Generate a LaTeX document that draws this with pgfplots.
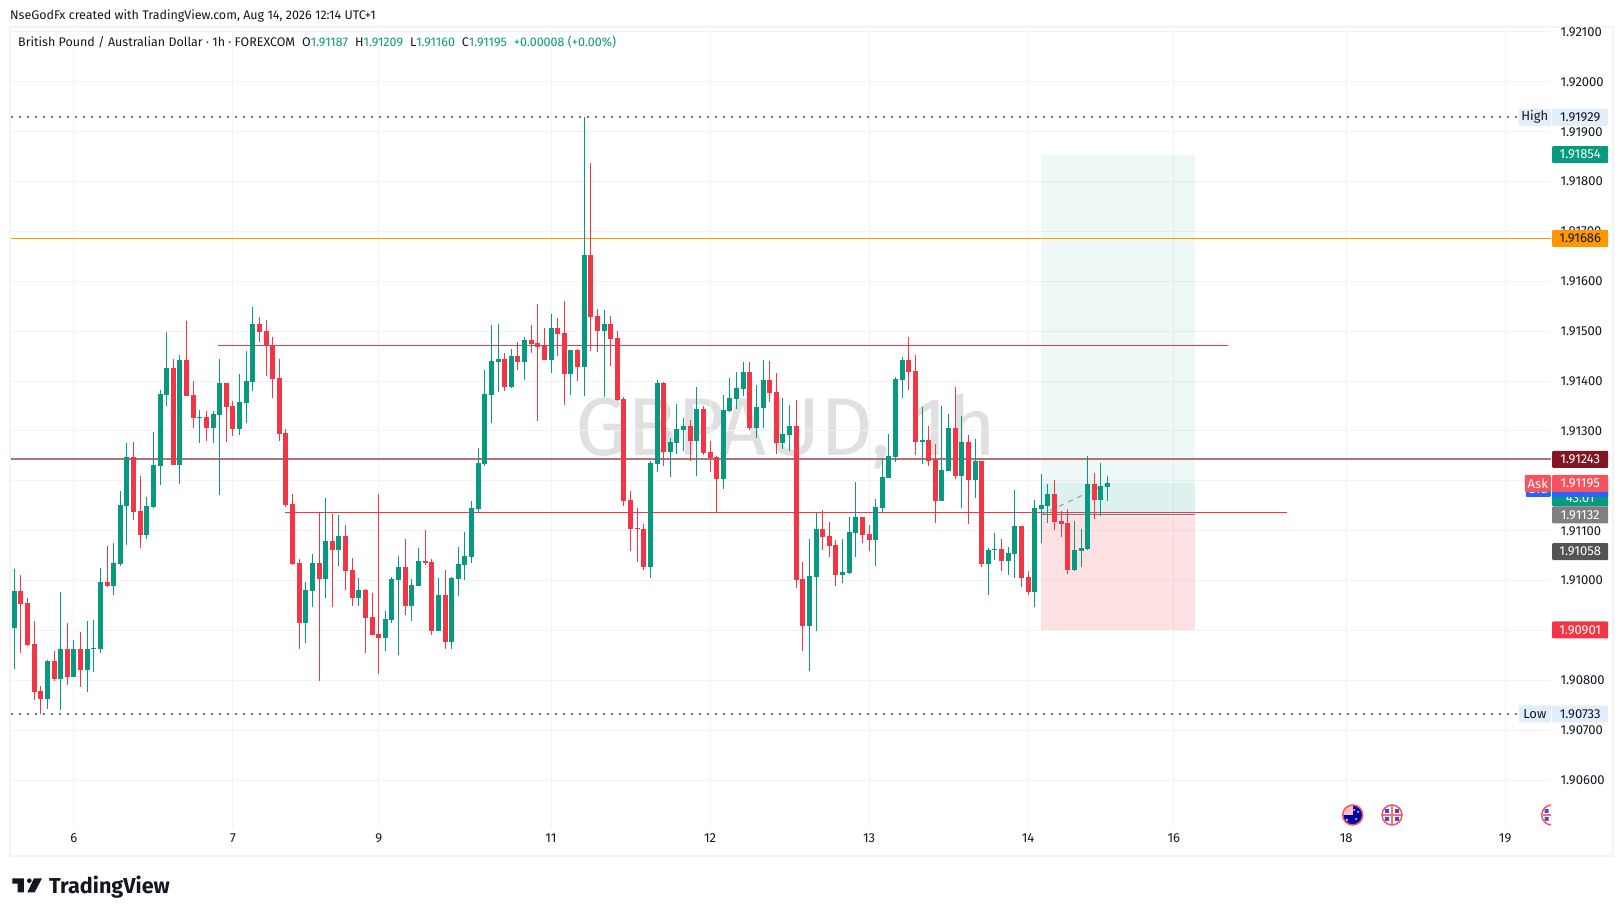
\documentclass[border=0pt]{standalone}
\usepackage{fontspec}
\setmainfont{Fira Sans}
\usepackage{pgfplots}
\usepackage{pgfplotstable}
\pgfplotsset{compat=1.18}
\definecolor{up}{HTML}{089981}
\definecolor{down}{HTML}{F23645}
\definecolor{gridc}{HTML}{F3F3F3}
\definecolor{framec}{HTML}{F2F3F5}
\definecolor{txt}{HTML}{131722}
\definecolor{hl}{HTML}{E3EEFC}
\definecolor{keyline}{HTML}{B27377}
\definecolor{keybox}{HTML}{7F1622}
\definecolor{askc}{HTML}{F7525F}
\definecolor{bidc}{HTML}{2962FF}
\definecolor{orangec}{HTML}{FF9800}
\pgfplotstableread{
i o h l c
0 1.90905 1.91023 1.90823 1.90979
5 1.90763 1.90841 1.90743 1.90839
7 1.90803 1.90977 1.90741 1.90863
9 1.90807 1.90881 1.90807 1.90863
11 1.90821 1.90919 1.90777 1.90863
12 1.90863 1.90921 1.90817 1.90865
13 1.90863 1.91025 1.90855 1.90997
15 1.90989 1.91075 1.90971 1.91035
16 1.91033 1.91179 1.91029 1.91151
17 1.91149 1.91275 1.91071 1.91247
20 1.91091 1.91167 1.91083 1.91149
21 1.91147 1.91297 1.91145 1.91231
22 1.91229 1.91383 1.91191 1.91375
23 1.91373 1.91499 1.91351 1.91427
25 1.91231 1.91453 1.91193 1.91443
28 1.91327 1.91343 1.91275 1.91329
30 1.91305 1.91341 1.91275 1.91335
31 1.91333 1.91445 1.91171 1.91397
34 1.91303 1.91415 1.91291 1.91359
35 1.91357 1.91461 1.91317 1.91401
36 1.91399 1.91549 1.91381 1.91515
44 1.90915 1.90997 1.90875 1.90981
45 1.90979 1.91053 1.90947 1.91035
47 1.91003 1.91165 1.90965 1.91079
49 1.91061 1.91131 1.91029 1.91089
52 1.90965 1.91005 1.90949 1.90981
56 1.90885 1.90939 1.90859 1.90923
57 1.90921 1.91007 1.90915 1.91003
58 1.91001 1.91049 1.90851 1.91027
60 1.90949 1.91003 1.90919 1.90991
61 1.90989 1.91065 1.90989 1.91039
64 1.90899 1.91005 1.90899 1.90971
66 1.90877 1.91007 1.90863 1.91005
67 1.91003 1.91067 1.90969 1.91033
68 1.91031 1.91097 1.91001 1.91049
69 1.91047 1.91159 1.91035 1.91145
70 1.91143 1.91265 1.91135 1.91235
71 1.91233 1.91423 1.91229 1.91375
72 1.91373 1.91513 1.91315 1.91441
73 1.91439 1.91515 1.91379 1.91445
75 1.91389 1.91465 1.91387 1.91451
77 1.91439 1.91489 1.91403 1.91483
81 1.91443 1.91535 1.91417 1.91507
84 1.91415 1.91463 1.91373 1.91463
86 1.91429 1.91929 1.91371 1.91653
89 1.91501 1.91543 1.91369 1.91515
96 1.91027 1.91239 1.91005 1.91235
97 1.91233 1.91403 1.91217 1.91397
99 1.91257 1.91285 1.91207 1.91277
100 1.91275 1.91355 1.91253 1.91303
101 1.91301 1.91327 1.91259 1.91309
103 1.91279 1.91389 1.91209 1.91345
107 1.91203 1.91373 1.91183 1.91343
108 1.91341 1.91407 1.91339 1.91367
109 1.91365 1.91419 1.91345 1.91387
110 1.91385 1.91439 1.91371 1.91419
112 1.91305 1.91393 1.91285 1.91349
113 1.91347 1.91443 1.91305 1.91403
116 1.91275 1.91367 1.91263 1.91293
117 1.91291 1.91353 1.91259 1.91309
120 1.90909 1.91083 1.90819 1.91009
121 1.91007 1.91136 1.90899 1.91103
125 1.91011 1.91083 1.90995 1.91017
126 1.91015 1.91127 1.91013 1.91097
127 1.91095 1.91197 1.91047 1.91127
130 1.91081 1.91163 1.91029 1.91147
131 1.91145 1.91245 1.91137 1.91207
132 1.91205 1.91293 1.91205 1.91249
133 1.91247 1.91409 1.91237 1.91405
134 1.91403 1.91449 1.91367 1.91443
137 1.91277 1.91349 1.91233 1.91281
140 1.91159 1.91351 1.91159 1.91221
141 1.91219 1.91335 1.91219 1.91305
143 1.91209 1.91331 1.91145 1.91277
145 1.91201 1.91283 1.91165 1.91239
147 1.91033 1.91065 1.90971 1.91061
148 1.91061 1.91095 1.91041 1.91063
150 1.91039 1.91067 1.91011 1.91055
151 1.91053 1.91181 1.91005 1.91109
154 1.90977 1.91161 1.90947 1.91145
155 1.91143 1.91213 1.91075 1.91151
156 1.91149 1.91193 1.91115 1.91173
160 1.91021 1.91119 1.91019 1.91061
161 1.91059 1.91103 1.91027 1.91065
162 1.91063 1.91249 1.91061 1.91193
164 1.91161 1.91235 1.91129 1.91189
165 1.91187 1.91209 1.91160 1.91195
}\upbars
\pgfplotstableread{
i o h l c
1 1.90979 1.91011 1.90855 1.90953
2 1.90955 1.90965 1.90869 1.90871
3 1.90873 1.90919 1.90761 1.90777
4 1.90779 1.90789 1.90733 1.90763
6 1.90839 1.90859 1.90799 1.90803
8 1.90863 1.90915 1.90791 1.90807
10 1.90863 1.90897 1.90787 1.90821
14 1.90997 1.91069 1.90987 1.90989
18 1.91247 1.91277 1.91121 1.91137
19 1.91139 1.91209 1.91065 1.91091
24 1.91427 1.91445 1.91231 1.91231
26 1.91443 1.91521 1.91371 1.91371
27 1.91373 1.91401 1.91305 1.91327
29 1.91329 1.91341 1.91279 1.91305
32 1.91397 1.91397 1.91277 1.91349
33 1.91351 1.91361 1.91289 1.91303
37 1.91515 1.91529 1.91479 1.91499
38 1.91501 1.91523 1.91411 1.91472
39 1.91472 1.91489 1.91367 1.91405
40 1.91407 1.91445 1.91279 1.91293
41 1.91295 1.91305 1.91147 1.91151
42 1.91153 1.91173 1.91031 1.91033
43 1.91035 1.91043 1.90863 1.90915
46 1.91035 1.91136 1.90799 1.91003
48 1.91079 1.91133 1.90947 1.91061
50 1.91089 1.91111 1.90981 1.91019
51 1.91021 1.91045 1.90949 1.90965
53 1.90981 1.90983 1.90855 1.90925
54 1.90927 1.90975 1.90891 1.90891
55 1.90893 1.91173 1.90813 1.90885
59 1.91027 1.91083 1.90931 1.90949
62 1.91039 1.91101 1.91031 1.91035
63 1.91037 1.91043 1.90891 1.90899
65 1.90971 1.91021 1.90863 1.90877
74 1.91445 1.91457 1.91381 1.91389
76 1.91451 1.91479 1.91423 1.91439
78 1.91483 1.91513 1.91457 1.91475
79 1.91477 1.91555 1.91321 1.91469
80 1.91473 1.91507 1.91443 1.91443
82 1.91507 1.91527 1.91451 1.91495
83 1.91497 1.91561 1.91353 1.91415
85 1.91463 1.91465 1.91401 1.91429
87 1.91653 1.91837 1.91461 1.91529
88 1.91531 1.91545 1.91459 1.91501
90 1.91515 1.91531 1.91431 1.91485
91 1.91487 1.91501 1.91361 1.91363
92 1.91365 1.91369 1.91149 1.91159
93 1.91161 1.91179 1.91059 1.91103
94 1.91105 1.91145 1.91037 1.91103
95 1.91103 1.91113 1.91021 1.91027
98 1.91397 1.91399 1.91229 1.91257
102 1.91309 1.91323 1.91239 1.91279
104 1.91345 1.91351 1.91251 1.91255
105 1.91257 1.91279 1.91217 1.91245
106 1.91247 1.91249 1.91136 1.91203
111 1.91419 1.91439 1.91301 1.91305
114 1.91403 1.91441 1.91359 1.91377
115 1.91379 1.91417 1.91253 1.91275
118 1.91309 1.91363 1.90985 1.91001
119 1.91003 1.91037 1.90859 1.90909
122 1.91103 1.91141 1.91061 1.91087
123 1.91089 1.91117 1.91047 1.91069
124 1.91071 1.91081 1.90989 1.91011
128 1.91127 1.91127 1.91075 1.91091
129 1.91093 1.91111 1.91059 1.91081
135 1.91443 1.91489 1.91383 1.91419
136 1.91421 1.91453 1.91251 1.91277
138 1.91281 1.91311 1.91229 1.91239
139 1.91241 1.91273 1.91115 1.91159
142 1.91305 1.91389 1.91203 1.91209
144 1.91277 1.91291 1.91113 1.91201
146 1.91239 1.91239 1.91027 1.91033
149 1.91063 1.91083 1.91019 1.91039
152 1.91109 1.91109 1.90987 1.91005
153 1.91007 1.91019 1.90971 1.90977
157 1.91173 1.91201 1.91101 1.91117
158 1.91119 1.91139 1.91087 1.91113
159 1.91115 1.91143 1.91013 1.91021
163 1.91193 1.91215 1.91123 1.91161
}\downbars
\newcommand{\pricebox}[4]{% price, fill, text colour, text
  \node[anchor=west,xshift=1pt,minimum width=56pt,minimum height=17pt,inner sep=0pt,rounded corners=1pt,
        fill=#2,text=#3,font=\fontsize{13}{15}\selectfont] at (axis cs:231.92,#1) {#4};}
\newcommand{\sidebox}[5]{% price, width, fill, text colour, text
  \node[anchor=east,minimum width=#2,minimum height=17pt,inner sep=0pt,rounded corners=1pt,
        fill=#3,text=#4,font=\fontsize{13}{15}\selectfont] at (axis cs:231.92,#1) {#5};}
\begin{document}
\begin{tikzpicture}[x=1pt,y=1pt]
\path[use as bounding box] (0,0) rectangle (1623,916);
\draw[framec,line width=2pt] (10,889) rectangle (1613,60);
% header text
\node[anchor=base west,inner sep=0pt,text=txt,font=\fontsize{12.5}{15}\selectfont] at (10,896) {NseGodFx created with TradingView.com, Aug 14, 2026 12:14 UTC+1};
% watermark
\node[anchor=center,inner sep=0pt,text=black!12,font=\fontsize{82}{90}\selectfont] at (786,484) {GBPAUD, 1h};
\begin{axis}[
  at={(11pt,88pt)},anchor=south west,
  scale only axis,width=1540pt,height=801pt,
  xmin=-0.5,xmax=231.92,ymin=1.90504,ymax=1.92110,
  clip=false,
  axis line style={draw=none},
  major tick length=0pt,
  xtick={9,33,55,81,105,129,153,175,201,225},
  xticklabels={6,7,9,11,12,13,14,16,18,19},
  ytick={1.906,1.907,1.908,1.909,1.910,1.911,1.912,1.913,1.914,1.915,1.916,1.917,1.918,1.919,1.920,1.921},
  yticklabel pos=right,
  scaled y ticks=false,
  grid=major,
  grid style={gridc,line width=1pt},
  ticklabel style={text=txt,font=\fontsize{13}{15}\selectfont},
  yticklabel style={anchor=west,xshift=6pt,/pgf/number format/.cd,fixed,fixed zerofill,precision=5,1000 sep={},assume math mode=true},
  xticklabel style={yshift=-2pt},
]
% position tool
\addplot[draw=none,fill=up,fill opacity=0.07,forget plot] coordinates {(154.95,1.91132) (178.2,1.91132) (178.2,1.91854) (154.95,1.91854)} -- cycle;
\addplot[draw=none,fill=up,fill opacity=0.07,forget plot] coordinates {(154.95,1.91132) (178.2,1.91132) (178.2,1.91195) (154.95,1.91195)} -- cycle;
\addplot[draw=none,fill=down,fill opacity=0.15,forget plot] coordinates {(154.95,1.90901) (178.2,1.90901) (178.2,1.91132) (154.95,1.91132)} -- cycle;
% horizontal levels
\addplot[color=black!55,line width=2pt,dash pattern=on 2pt off 6pt,forget plot] coordinates {(-0.5,1.91929) (227.3,1.91929)};
\addplot[color=black!55,line width=2pt,dash pattern=on 2pt off 6pt,forget plot] coordinates {(-0.5,1.90733) (227.3,1.90733)};
\addplot[color=orangec,line width=1pt,forget plot] coordinates {(-0.5,1.91686) (231.92,1.91686)};
\addplot[color=keyline,line width=2pt,forget plot] coordinates {(-0.5,1.91243) (231.92,1.91243)};
\addplot[color=down,line width=1pt,forget plot] coordinates {(30.8,1.91472) (183.2,1.91472)};
\addplot[color=down,line width=1pt,forget plot] coordinates {(40.85,1.91136) (192.1,1.91136)};
\addplot[color=black!50,line width=1pt,forget plot] coordinates {(154.95,1.91132) (178.2,1.91132)};
\addplot[color=black!40,line width=1pt,dash pattern=on 5pt off 5pt,forget plot] coordinates {(154.95,1.91132) (165,1.91195)};
% wicks
\addplot[draw=none,mark=none,forget plot,error bars/.cd,y dir=both,y explicit,error mark=none,error bar style={up,line width=1pt}]
  table[x=i,y=c,y error plus expr=\thisrow{h}-\thisrow{c},y error minus expr=\thisrow{c}-\thisrow{l}] {\upbars};
\addplot[draw=none,mark=none,forget plot,error bars/.cd,y dir=both,y explicit,error mark=none,error bar style={down,line width=1pt}]
  table[x=i,y=c,y error plus expr=\thisrow{h}-\thisrow{c},y error minus expr=\thisrow{c}-\thisrow{l}] {\downbars};
% bodies
\addplot[draw=none,mark=none,forget plot,error bars/.cd,y dir=minus,y explicit,error mark=none,error bar style={up,line width=5pt}]
  table[x=i,y=c,y error minus expr=\thisrow{c}-\thisrow{o}] {\upbars};
\addplot[draw=none,mark=none,forget plot,error bars/.cd,y dir=minus,y explicit,error mark=none,error bar style={down,line width=5pt}]
  table[x=i,y=o,y error minus expr=\thisrow{o}-\thisrow{c}] {\downbars};
% price scale boxes
\pricebox{1.91929}{hl}{txt}{1.91929}
\sidebox{1.91929}{32pt}{hl}{txt}{High}
\pricebox{1.91854}{up}{white}{1.91854}
\pricebox{1.91686}{orangec}{txt}{1.91686}
\pricebox{1.91243}{keybox}{white}{1.91243}
\pricebox{1.91166}{up}{white}{43.01}
\pricebox{1.91185}{bidc}{white}{1.91185}
\sidebox{1.91185}{25pt}{bidc}{white}{Bid}
\pricebox{1.91195}{askc}{white}{1.91195}
\sidebox{1.91195}{26pt}{askc}{white}{Ask}
\pricebox{1.91132}{black!50}{white}{1.91132}
\pricebox{1.91058}{black!67}{white}{1.91058}
\pricebox{1.90901}{down}{white}{1.90901}
\pricebox{1.90733}{hl}{txt}{1.90733}
\sidebox{1.90733}{32pt}{hl}{txt}{Low}
\end{axis}
% legend line
\node[anchor=base west,inner sep=0pt,font=\fontsize{12.5}{15}\selectfont] at (18,869) {\textcolor{txt}{British Pound / Australian Dollar · 1h · FOREXCOM\hspace{7pt}O}\textcolor{up}{1.91187}\hspace{7pt}\textcolor{txt}{H}\textcolor{up}{1.91209}\hspace{7pt}\textcolor{txt}{L}\textcolor{up}{1.91160}\hspace{7pt}\textcolor{txt}{C}\textcolor{up}{1.91195}\hspace{7pt}\textcolor{up}{+0.00008 (+0.00\%)}};
% event flags
\begin{scope}
\clip (1300,60) rectangle (1551,130);
% Australia
\fill[blue!65!black] (1352.7,101) circle (9.5);
\begin{scope}
\clip (1352.7,101) circle (9.5);
\fill[red!25!white] (1343,101) rectangle (1352.7,111);
\end{scope}
\fill[white] (1347,96) circle (1.2) (1356,97) circle (1) (1358,104) circle (1) (1354,106) circle (1);
\draw[askc,line width=1.5pt] (1352.7,101) circle (10);
% United Kingdom
\foreach \cx in {1392,1551.7}{
  \fill[white] (\cx,101) circle (9.5);
  \fill[blue!70!black!70!white] (\cx-7,103) rectangle (\cx-3,107) (\cx+3,103) rectangle (\cx+7,107) (\cx-7,95) rectangle (\cx-3,99) (\cx+3,95) rectangle (\cx+7,99);
  \draw[down!70!white,line width=1.6pt] (\cx-9,101) -- (\cx+9,101) (\cx,92) -- (\cx,110);
  \draw[askc,line width=1.5pt] (\cx,101) circle (10);
}
\end{scope}
% logo
\begin{scope}[shift={(0,66)},x=0.3333pt,y=-0.3333pt]
\fill[txt] (37,85) -- (72,85) -- (72,127) -- (53,127) -- (53,101) -- (37,101) -- cycle;
\fill[txt] (88,92) circle (7);
\fill[txt] (102,85) -- (126,85) -- (104,127) -- (82,127) -- cycle;
\end{scope}
\node[anchor=base west,inner sep=0pt,text=txt,font=\fontsize{21.6}{24}\selectfont\bfseries] at (49,23) {TradingView};
\end{tikzpicture}
\end{document}
